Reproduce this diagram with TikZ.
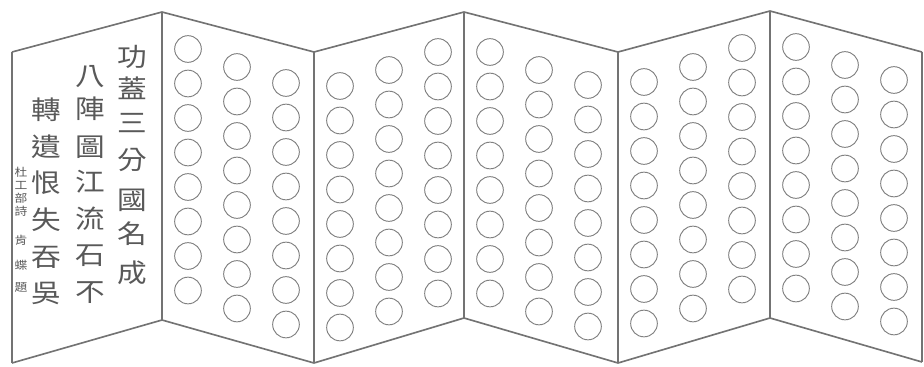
\documentclass[tikz,border=0pt]{standalone}
\usepackage{fontspec}
\newfontfamily\cjkfont[FakeStretch=1.15]{Noto Sans CJK TC}
\usetikzlibrary{positioning}

\begin{document}
\begin{tikzpicture}[x=0.03cm, y=-0.03cm,
  fold/.style={draw=black!55, line width=1.4pt, line join=round},
  hole/.style={circle, draw=black!50, line width=0.8pt, minimum size=0.8cm, inner sep=0pt},
  glyph/.style={font=\cjkfont\fontsize{22}{22}\selectfont, text=black!65, inner sep=0pt},
  seal/.style={font=\cjkfont\fontsize{9.5}{9.5}\selectfont, text=black!65, inner sep=0pt}]
\useasboundingbox (0,0) rectangle (924,367);
% creases: top and bottom end of each fold
\foreach \i/\xx/\yt/\yb in {0/12/52/363, 1/162/12/320, 2/314/52/363, 3/464/12/318, 4/618/52/363, 5/770/11/318, 6/922/52/362} {
  \coordinate (t\i) at (\xx,\yt);
  \coordinate (b\i) at (\xx,\yb);
}
% screen outline
\draw[fold] (t0) -- (t1) -- (t2) -- (t3) -- (t4) -- (t5) -- (t6);
\draw[fold] (b0) -- (b1) -- (b2) -- (b3) -- (b4) -- (b5) -- (b6);
\foreach \i in {0,...,6} {
  \draw[fold] (t\i) -- (b\i);
}
% holes: three columns of eight on every panel but the first
\foreach \xl/\ya/\yb/\yc [count=\p from 2] in {162/49/67/83, 314/86/70/52, 464/52/70/85, 618/82/67/48, 770/47/65/80} {
  \foreach \dx/\yy [count=\c] in {26/\ya, 75/\yb, 124/\yc} {
    \foreach \r in {0,...,7}
      \node[hole] (h\p-\c-\r) at (\xl+\dx, \yy+34.5*\r) {};
  }
}
% poem, read right to left
\foreach \ch/\yy [count=\i] in {功/57, 蓋/88, 三/123, 分/160, 國/200, 名/234, 成/273}
  \node[glyph] (a\i) at (132,\yy) {\ch};
\foreach \ch/\yy [count=\i] in {八/77, 陣/109, 圖/147, 江/182, 流/219, 石/256, 不/293}
  \node[glyph] (b\i) at (90,\yy) {\ch};
\foreach \ch/\yy [count=\i] in {轉/110, 遺/147, 恨/183, 失/220, 吞/257, 吳/293}
  \node[glyph] (c\i) at (46,\yy) {\ch};
% signature
\foreach \ch/\yy [count=\i] in {杜/172, 工/185, 部/198, 詩/211, 肯/240, 蝶/265, 題/288}
  \node[seal] (s\i) at (21,\yy) {\ch};
\end{tikzpicture}
\end{document}
